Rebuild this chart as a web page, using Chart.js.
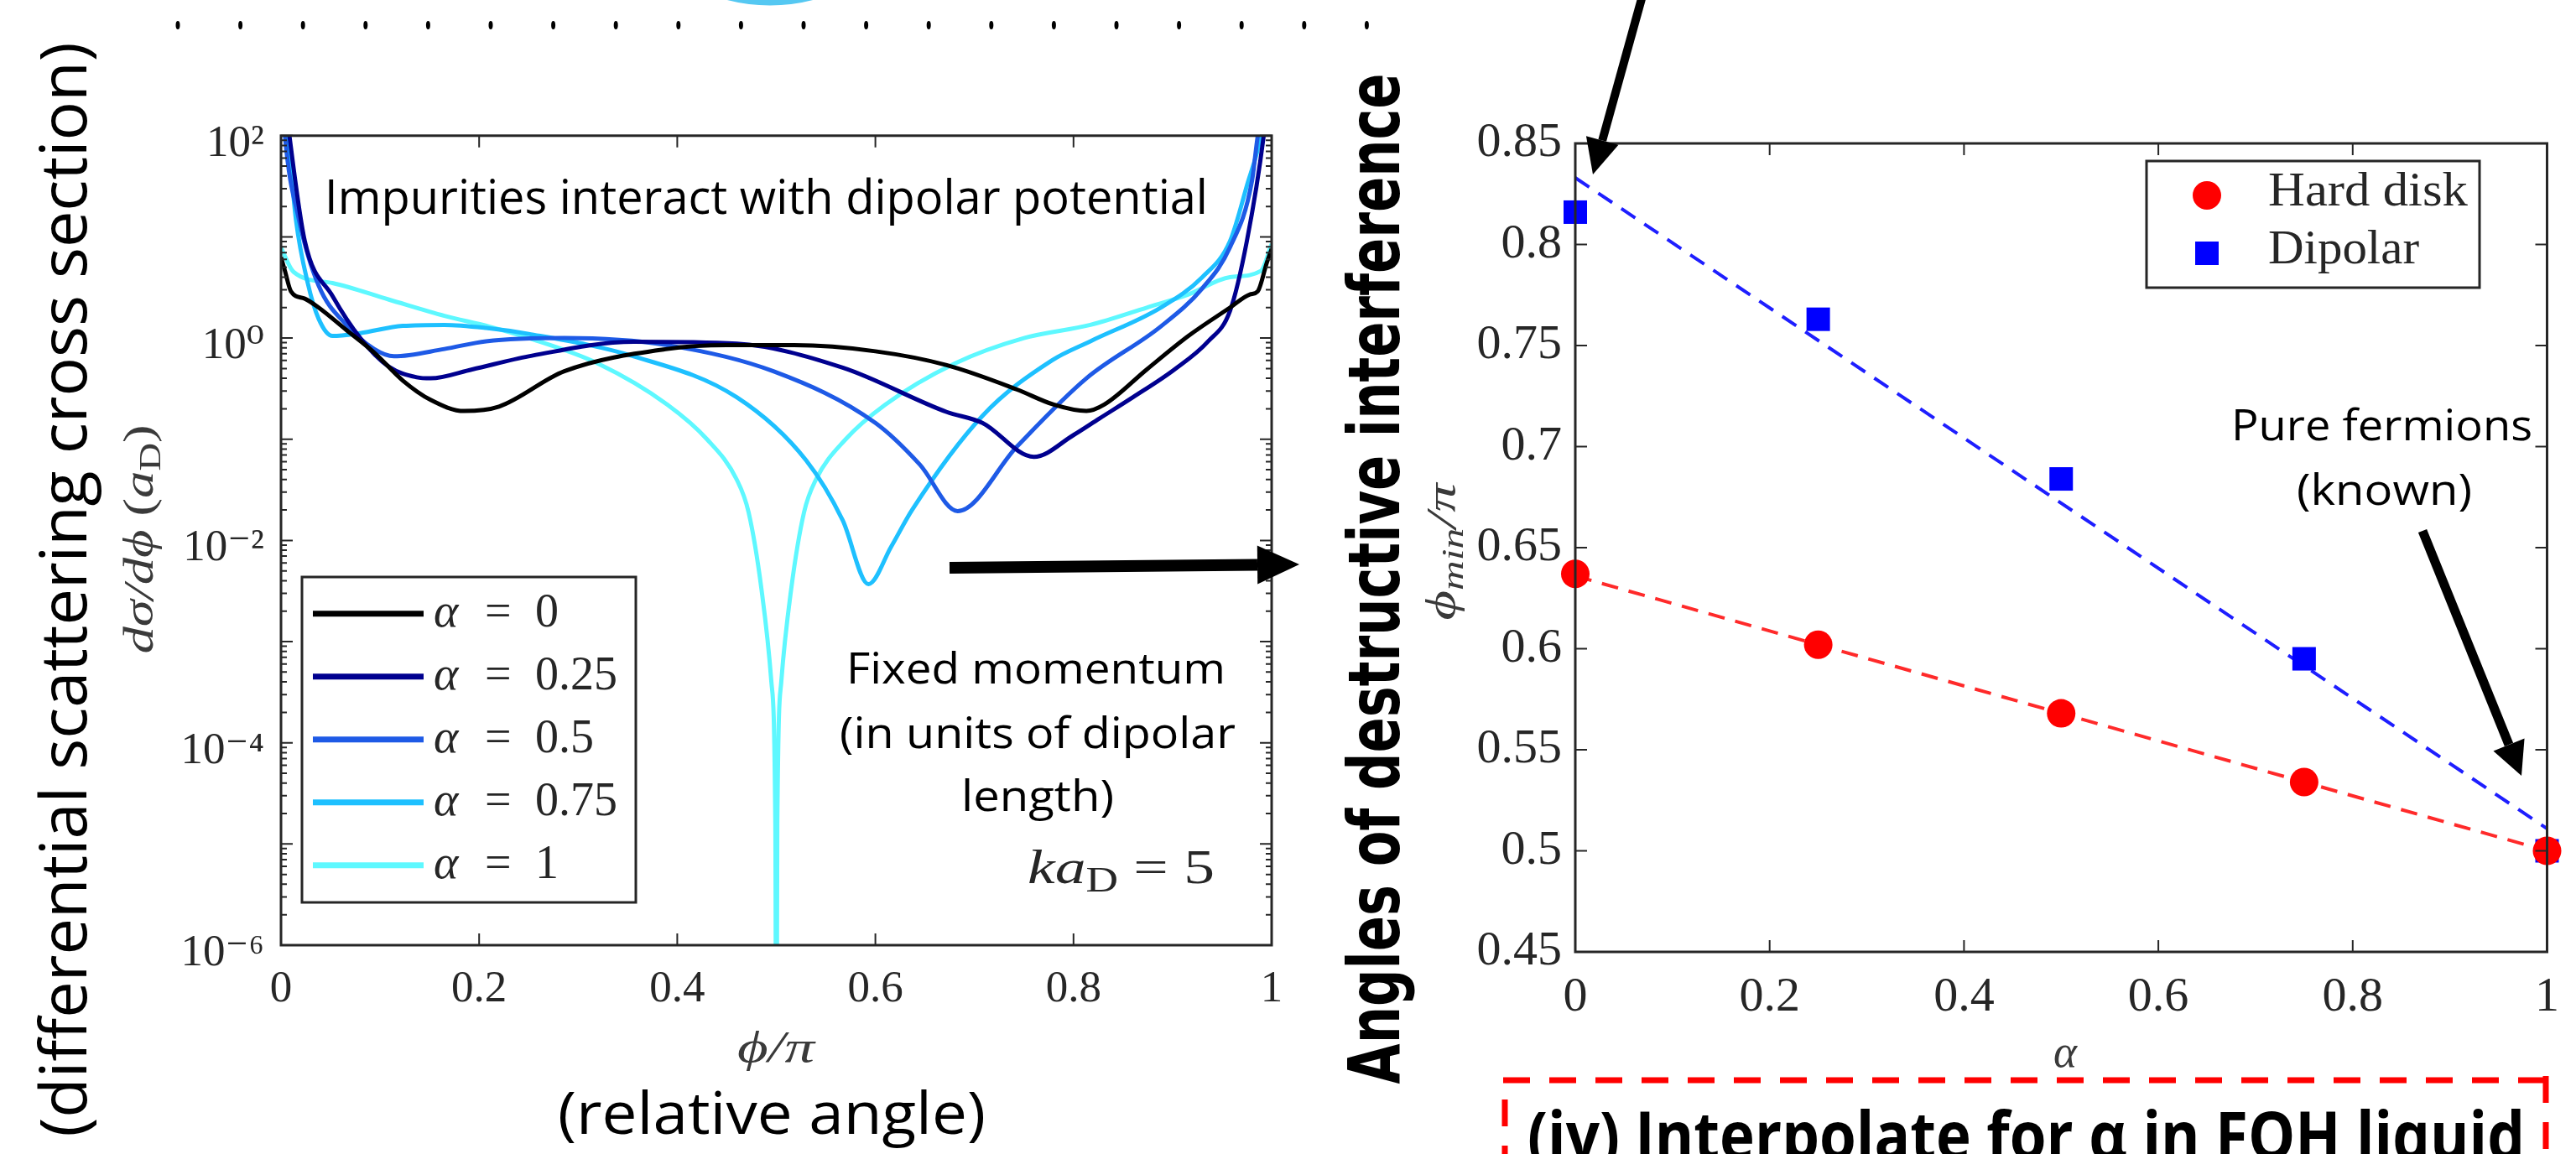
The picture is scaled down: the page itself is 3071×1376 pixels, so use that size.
<!DOCTYPE html>
<html>
<head>
<meta charset="utf-8">
<script src="https://cdn.jsdelivr.net/npm/chart.js@4.4.1/dist/chart.umd.min.js"></script>
<style>
html, body { margin: 0; padding: 0; background: #fff; }
body { width: 3071px; height: 1376px; position: relative; overflow: hidden; }
#lwrap { position: absolute; left: 200px; top: 110px; width: 1360px; height: 1130px; }
#rwrap { position: absolute; left: 1740px; top: 120px; width: 1331px; height: 1140px; }
#ann { position: absolute; left: 0; top: 0; pointer-events: none; }
</style>
</head>
<body>
<div id="lwrap"><canvas id="left"></canvas></div>
<div id="rwrap"><canvas id="right"></canvas></div>
<canvas id="ann" width="3071" height="1376"></canvas>
<script>
// ---- left panel: d sigma / d phi vs phi/pi, one curve per alpha ----
const alphas = ['0', '0.25', '0.5', '0.75', '1'];
const lineColors = ['#000000', '#00008f', '#1e5ae6', '#1ec0ff', '#5ef8ff'];

const phi0 = [0, 0.004, 0.01, 0.024, 0.038, 0.066, 0.094, 0.123, 0.151, 0.185, 0.22, 0.286, 0.39, 0.45, 0.518, 0.6, 0.672, 0.743, 0.78, 0.813, 0.831, 0.874, 0.916, 0.958, 0.978, 0.986, 0.995, 1];
const sig0 = [6.3, 4.6, 2.9, 2.45, 2.0, 1.2, 0.72, 0.38, 0.245, 0.19, 0.21, 0.47, 0.78, 0.85, 0.85, 0.74, 0.54, 0.31, 0.22, 0.19, 0.22, 0.49, 1.05, 2.0, 2.7, 2.9, 5.5, 7.6];

const phi25 = [0.003, 0.0085, 0.024, 0.052, 0.08, 0.109, 0.137, 0.151, 0.193, 0.25, 0.356, 0.46, 0.567, 0.672, 0.708, 0.76, 0.8, 0.826, 0.86, 0.902, 0.936, 0.958, 0.975, 0.992, 0.997];
const sig25 = [300, 100, 9.1, 2.6, 1.0, 0.52, 0.41, 0.40, 0.49, 0.66, 0.92, 0.88, 0.51, 0.186, 0.145, 0.067, 0.11, 0.16, 0.26, 0.49, 0.93, 1.86, 9.1, 100, 300];

const phi50 = [0.001, 0.004, 0.018, 0.038, 0.066, 0.094, 0.114, 0.165, 0.207, 0.286, 0.39, 0.497, 0.6, 0.645, 0.683, 0.743, 0.813, 0.888, 0.93, 0.958, 0.98, 0.986, 0.995];
const sig50 = [300, 100, 15, 3.3, 1.35, 0.78, 0.66, 0.78, 0.93, 1.0, 0.85, 0.47, 0.145, 0.056, 0.0195, 0.085, 0.40, 1.3, 3.1, 7.9, 35, 100, 300];

const phi75 = [0.002, 0.007, 0.015, 0.027, 0.038, 0.052, 0.08, 0.123, 0.165, 0.207, 0.25, 0.356, 0.46, 0.53, 0.567, 0.593, 0.616, 0.637, 0.708, 0.778, 0.817, 0.888, 0.93, 0.958, 0.975, 0.989, 0.996];
const sig75 = [300, 100, 15, 3.5, 1.55, 1.05, 1.12, 1.32, 1.35, 1.26, 1.1, 0.66, 0.26, 0.062, 0.0158, 0.0037, 0.0087, 0.02, 0.17, 0.6, 0.93, 2.0, 4.0, 9.1, 32, 100, 300];

const phi100 = [0, 0.0127, 0.052, 0.109, 0.165, 0.21, 0.25, 0.32, 0.39, 0.43, 0.46, 0.472, 0.485, 0.495, 0.499, 0.5, 0.501, 0.505, 0.515, 0.528, 0.54, 0.57, 0.61, 0.68, 0.75, 0.817, 0.874, 0.916, 0.958, 0.989, 1];
const sig100 = [7.8, 4.5, 3.5, 2.4, 1.66, 1.3, 1.0, 0.56, 0.22, 0.1, 0.04, 0.019, 0.0033, 0.0004, 0.000016, 1e-8, 0.000016, 0.0004, 0.0033, 0.019, 0.04, 0.1, 0.22, 0.56, 1.0, 1.35, 2.0, 2.7, 4.0, 4.6, 8.5];

const xTicks = [0, 0.2, 0.4, 0.6, 0.8, 1];
const xTickLabels = ['0', '0.2', '0.4', '0.6', '0.8', '1'];
const yTicksL = [1e-6, 1e-4, 1e-2, 1, 1e2];
const yTickLabelsL = ['10⁻⁶', '10⁻⁴', '10⁻²', '10⁰', '10²'];

// ---- right panel: phi_min/pi vs alpha ----
const alphaVals = [0, 0.25, 0.5, 0.75, 1];
const hardDisk = [0.637, 0.602, 0.568, 0.534, 0.5];
const dipolar = [0.816, 0.763, 0.684, 0.595, 0.5];
const fitX = [0, 1];
const hardFit = [0.636, 0.5];
const dipFit = [0.833, 0.511];
const seriesNames = ['Hard disk', 'Dipolar'];
const seriesColors = ['#ff0000', '#0000ff'];
const yTicksR = [0.45, 0.5, 0.55, 0.6, 0.65, 0.7, 0.75, 0.8, 0.85];
const yTickLabelsR = ['0.45', '0.5', '0.55', '0.6', '0.65', '0.7', '0.75', '0.8', '0.85'];

const AXIS = '#262626';
const serif = '"Liberation Serif", "DejaVu Serif", serif';

// inward ticks on all four sides plus the box, matlab style
const boxTicks = {
    id: 'boxTicks',
    afterDatasetsDraw(chart, args, o) {
        const {ctx, chartArea: a} = chart;
        const xs = chart.scales.x, ys = chart.scales.y;
        ctx.save();
        ctx.strokeStyle = AXIS;
        ctx.lineWidth = 2;
        ctx.beginPath();
        xs.ticks.forEach(t => {
            const p = xs.getPixelForValue(t.value);
            ctx.moveTo(p, a.bottom); ctx.lineTo(p, a.bottom - 14);
            ctx.moveTo(p, a.top); ctx.lineTo(p, a.top + 14);
        });
        const side = (v, len) => {
            const p = ys.getPixelForValue(v);
            ctx.moveTo(a.left, p); ctx.lineTo(a.left + len, p);
            ctx.moveTo(a.right, p); ctx.lineTo(a.right - len, p);
        };
        (o.yMajor || []).forEach(v => side(v, 14));
        (o.yMinor || []).forEach(v => side(v, 7));
        ctx.stroke();
        ctx.lineWidth = 3;
        ctx.strokeRect(a.left, a.top, a.right - a.left, a.bottom - a.top);
        ctx.restore();
    }
};

const decades = [], minors = [];
for (let k = -6; k <= 2; k++) {
    decades.push(Math.pow(10, k));
    if (k < 2) for (let m = 2; m <= 9; m++) minors.push(m * Math.pow(10, k));
}

const curves = [[phi0, sig0], [phi25, sig25], [phi50, sig50], [phi75, sig75], [phi100, sig100]];

new Chart(document.getElementById('left'), {
    type: 'scatter',
    data: {
        datasets: curves.map((c, i) => ({
            label: 'α = ' + alphas[i],
            data: c[0].map((p, j) => ({x: p, y: c[1][j]})),
            showLine: true,
            borderColor: lineColors[i],
            borderWidth: 5,
            pointRadius: 0,
            cubicInterpolationMode: 'monotone'
        }))
    },
    options: {
        responsive: true,
        maintainAspectRatio: false,
        animation: false,
        layout: {padding: {top: 47, right: 44}},
        plugins: {
            legend: {display: false},
            tooltip: {enabled: false},
            boxTicks: {yMajor: decades, yMinor: minors}
        },
        scales: {
            x: {
                type: 'linear', min: 0, max: 1,
                afterBuildTicks: s => { s.ticks = xTicks.map(v => ({value: v})); },
                afterFit: s => { s.height = 113; },
                grid: {display: false, drawTicks: false},
                border: {display: false},
                ticks: {callback: (v, i) => xTickLabels[i], autoSkip: false, maxRotation: 0,
                        font: {family: serif, size: 53}, color: AXIS, padding: 21}
            },
            y: {
                type: 'logarithmic', min: 1e-6, max: 1e2,
                afterBuildTicks: s => { s.ticks = yTicksL.map(v => ({value: v})); },
                afterFit: s => { s.width = 135; },
                grid: {display: false, drawTicks: false},
                border: {display: false},
                ticks: {callback: (v, i) => yTickLabelsL[i], autoSkip: false, labelOffset: 10,
                        font: {family: serif, size: 53}, color: AXIS, padding: 20}
            }
        }
    },
    plugins: [boxTicks]
});

new Chart(document.getElementById('right'), {
    type: 'scatter',
    data: {
        datasets: [
            {label: seriesNames[0], data: alphaVals.map((a, i) => ({x: a, y: hardDisk[i]})),
             pointStyle: 'circle', pointRadius: 17, backgroundColor: seriesColors[0], borderWidth: 0, clip: false},
            {label: seriesNames[1], data: alphaVals.map((a, i) => ({x: a, y: dipolar[i]})),
             pointStyle: 'rect', pointRadius: 19.8, backgroundColor: seriesColors[1], borderWidth: 0, clip: false},
            {label: 'fit hard', data: fitX.map((a, i) => ({x: a, y: hardFit[i]})), showLine: true,
             borderColor: '#ff2a2a', borderWidth: 4, borderDash: [20, 13], pointRadius: 0},
            {label: 'fit dip', data: fitX.map((a, i) => ({x: a, y: dipFit[i]})), showLine: true,
             borderColor: '#1e1eff', borderWidth: 4, borderDash: [20, 13], pointRadius: 0}
        ]
    },
    options: {
        responsive: true,
        maintainAspectRatio: false,
        animation: false,
        layout: {padding: {top: 51, right: 23}},
        plugins: {
            legend: {display: false},
            tooltip: {enabled: false},
            boxTicks: {yMajor: yTicksR}
        },
        scales: {
            x: {
                type: 'linear', min: 0, max: 1,
                afterBuildTicks: s => { s.ticks = xTicks.map(v => ({value: v})); },
                afterFit: s => { s.height = 125; },
                grid: {display: false, drawTicks: false},
                border: {display: false},
                ticks: {callback: (v, i) => xTickLabels[i], autoSkip: false, maxRotation: 0,
                        font: {family: serif, size: 58}, color: AXIS, padding: 20}
            },
            y: {
                type: 'linear', min: 0.45, max: 0.85,
                afterBuildTicks: s => { s.ticks = yTicksR.map(v => ({value: v})); },
                afterFit: s => { s.width = 138; },
                grid: {display: false, drawTicks: false},
                border: {display: false},
                ticks: {callback: (v, i) => yTickLabelsR[i], autoSkip: false,
                        font: {family: serif, size: 58}, color: AXIS, padding: 16}
            }
        }
    },
    plugins: [boxTicks]
});

// ---- annotations drawn on top ----
const ctx = document.getElementById('ann').getContext('2d');
const ROT = -Math.PI / 2;

function fit(s, x, y, font, w, o = {}) {
    ctx.save();
    ctx.font = font;
    ctx.fillStyle = o.color || '#000';
    const m = ctx.measureText(s).width;
    ctx.translate(x, y);
    if (o.rot) ctx.rotate(o.rot);
    ctx.scale(w / m, 1);
    ctx.textAlign = o.align || 'left';
    ctx.fillText(s, 0, 0);
    ctx.restore();
}

function rich(segs, x, y, w, o = {}) {
    ctx.save();
    let total = 0;
    const ws = segs.map(s => { ctx.font = s[1]; const m = ctx.measureText(s[0]).width; total += m; return m; });
    ctx.translate(x, y);
    if (o.rot) ctx.rotate(o.rot);
    ctx.scale(w / total, 1);
    ctx.fillStyle = o.color || '#000';
    let cx = o.center ? -total / 2 : 0;
    segs.forEach((s, i) => { ctx.font = s[1]; ctx.fillText(s[0], cx, s[2] || 0); cx += ws[i]; });
    ctx.restore();
}

function arrow(x1, y1, x2, y2, lw, hl, hw) {
    const a = Math.atan2(y2 - y1, x2 - x1);
    const bx = x2 - hl * Math.cos(a), by = y2 - hl * Math.sin(a);
    ctx.save();
    ctx.strokeStyle = '#000';
    ctx.fillStyle = '#000';
    ctx.lineWidth = lw;
    ctx.beginPath(); ctx.moveTo(x1, y1); ctx.lineTo(bx, by); ctx.stroke();
    ctx.beginPath();
    ctx.moveTo(x2, y2);
    ctx.lineTo(bx + hw / 2 * Math.sin(a), by - hw / 2 * Math.cos(a));
    ctx.lineTo(bx - hw / 2 * Math.sin(a), by + hw / 2 * Math.cos(a));
    ctx.closePath();
    ctx.fill();
    ctx.restore();
}

// top decorations: dotted row and the edge of a cyan ring
ctx.fillStyle = '#000';
for (let k = 0; k < 20; k++) {
    ctx.beginPath();
    ctx.ellipse(212 + 74.6 * k, 30, 2.5, 5, 0, 0, 2 * Math.PI);
    ctx.fill();
}
ctx.save();
ctx.strokeStyle = '#55c8f2';
ctx.lineWidth = 7;
ctx.beginPath();
ctx.arc(918, -197, 200, 0, Math.PI);
ctx.stroke();
ctx.restore();

// side titles
fit('(differential scattering cross section)', 103, 703, '76px "Open Sans"', 1305, {rot: ROT, align: 'center'});
fit('Angles of destructive interference', 1668, 690, 'bold 86px "DejaVu Sans"', 1205, {rot: ROT, align: 'center'});

// matlab axis labels
const GREY = '#3a3a3a';
rich([['dσ/dϕ', 'italic 50px ' + serif], [' (', '50px ' + serif], ['a', 'italic 50px ' + serif],
      ['D', '36px ' + serif, 9], [')', '50px ' + serif]], 182, 643, 273, {rot: ROT, center: true, color: GREY});
rich([['ϕ/π', 'italic 52px ' + serif]], 925, 1266, 92, {center: true, color: GREY});
rich([['ϕ', 'italic 50px ' + serif], ['min', 'italic 36px ' + serif, 9], ['/π', 'italic 50px ' + serif]],
     1735, 658, 163, {rot: ROT, center: true, color: GREY});
rich([['α', 'italic 54px ' + serif]], 2462, 1272, 28, {center: true, color: GREY});
rich([['ka', 'italic 58px ' + serif], ['D', '42px ' + serif, 10], [' = 5', '58px ' + serif]], 1225, 1053, 223, {color: AXIS});

// slide text
const cal = '"Open Sans"';
fit('Impurities interact with dipolar potential', 387, 255, '56px ' + cal, 1053);
fit('Fixed momentum', 1009, 815, '52px ' + cal, 452);
fit('(in units of dipolar', 1001, 892, '52px ' + cal, 472);
fit('length)', 1146, 967, '52px ' + cal, 182);
fit('(relative angle)', 665, 1352, '70px ' + cal, 510);
fit('Pure fermions', 2660, 525, '52px ' + cal, 359);
fit('(known)', 2738, 602, '52px ' + cal, 209);
fit('(iv) Interpolate for α in FQH liquid', 1821, 1382, 'bold 78px ' + cal, 1189);

// arrows
arrow(1958, -5, 1899, 208, 10, 42, 40);
arrow(1132, 677, 1549, 673, 14, 50, 46);
arrow(2888, 633, 3006, 925, 11, 40, 40);

// red dashed frame
ctx.save();
ctx.strokeStyle = '#ff0000';
ctx.lineWidth = 7;
ctx.setLineDash([32, 23]);
ctx.beginPath();
ctx.moveTo(1792, 1288); ctx.lineTo(3038, 1288);
ctx.moveTo(1794, 1311); ctx.lineTo(1794, 1390);
ctx.moveTo(3035, 1283); ctx.lineTo(3035, 1390);
ctx.stroke();
ctx.restore();

// left legend
ctx.save();
ctx.fillStyle = '#fff';
ctx.fillRect(360, 688, 398, 388);
ctx.strokeStyle = AXIS;
ctx.lineWidth = 3;
ctx.strokeRect(360, 688, 398, 388);
alphas.forEach((a, i) => {
    const y = 731.7 + 75 * i;
    ctx.strokeStyle = lineColors[i];
    ctx.lineWidth = 7;
    ctx.beginPath(); ctx.moveTo(373, y); ctx.lineTo(505, y); ctx.stroke();
    ctx.fillStyle = AXIS;
    ctx.font = 'italic 56px ' + serif;
    ctx.fillText('α', 517, y + 15.5);
    ctx.font = '56px ' + serif;
    ctx.fillText('=', 578, y + 15.5);
    ctx.fillText(a, 638, y + 15.5);
});
ctx.restore();

// right legend
ctx.save();
ctx.fillStyle = '#fff';
ctx.fillRect(2559, 192, 397, 151);
ctx.strokeStyle = AXIS;
ctx.lineWidth = 3;
ctx.strokeRect(2559, 192, 397, 151);
ctx.fillStyle = seriesColors[0];
ctx.beginPath(); ctx.arc(2631, 233, 17, 0, 2 * Math.PI); ctx.fill();
ctx.fillStyle = seriesColors[1];
ctx.fillRect(2617, 288, 28, 28);
ctx.restore();
fit(seriesNames[0], 2704, 245, '56px ' + serif, 238, {color: AXIS});
fit(seriesNames[1], 2704, 314, '56px ' + serif, 180, {color: AXIS});
</script>
</body>
</html>
